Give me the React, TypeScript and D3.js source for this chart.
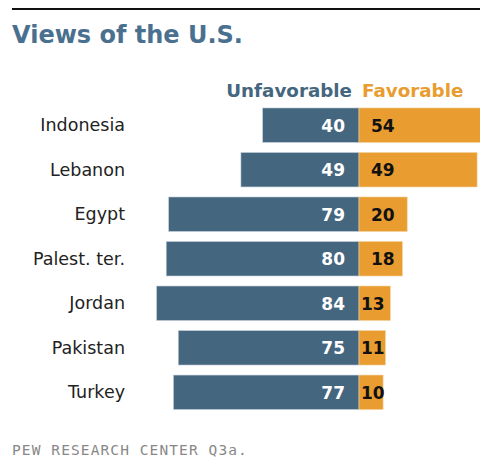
import React from "react";
import * as d3 from "d3";

const countries = ["Indonesia", "Lebanon", "Egypt", "Palest. ter.", "Jordan", "Pakistan", "Turkey"];
const unfavorable = [40, 49, 79, 80, 84, 75, 77];
const favorable = [54, 49, 20, 18, 13, 11, 10];

const BLUE = "#45667f";
const ORANGE = "#e99c2f";
const FONT = "Verdana, 'DejaVu Sans', sans-serif";

export default function App() {
  const W = 480, H = 459;
  const cx = 359;
  const k = 2.41;
  const xU = d3.scaleLinear().domain([0, 100]).range([cx, cx - 100 * k]);
  const xF = d3.scaleLinear().domain([0, 100]).range([cx, cx + 100 * k]);
  const y = d3.scaleBand().domain(countries).range([103.5, 414]).paddingInner(0.225).paddingOuter(0.1);
  const bh = y.bandwidth();

  return (
    <svg width={W} height={H} style={{ position: "absolute", left: 0, top: 0, display: "block" }}>
      <defs>
        <clipPath id="clip"><rect x={0} y={0} width={W} height={H} /></clipPath>
      </defs>
      <line x1={12} x2={W} y1={9} y2={9} stroke="#111" strokeWidth={2} />
      <text x={12} y={43} fontFamily={FONT} fontWeight="bold" fontSize={24} fill="#4a7090">Views of the U.S.</text>
      <text x={352} y={97} textAnchor="end" fontFamily={FONT} fontWeight="bold" fontSize={18.3} fill={BLUE}>Unfavorable</text>
      <text x={362} y={97} fontFamily={FONT} fontWeight="bold" fontSize={18.3} fill={ORANGE}>Favorable</text>
      <g clipPath="url(#clip)">
        {countries.map((c, i) => {
          const y0 = y(c)!;
          const yc = y0 + bh / 2;
          const fw = xF(favorable[i]) - cx;
          return (
            <g key={c}>
              <text x={125} y={yc + 6} textAnchor="end" fontFamily={FONT} fontSize={17.5} fill="#222">{c}</text>
              <rect x={xU(unfavorable[i])} y={y0} width={cx - xU(unfavorable[i])} height={bh} fill={BLUE} stroke="#c8d3dc" strokeWidth={0.6} />
              <rect x={cx} y={y0} width={fw} height={bh} fill={ORANGE} stroke="#f3d29f" strokeWidth={0.6} />
              <text x={cx - 14} y={yc + 6.5} textAnchor="end" fontFamily={FONT} fontWeight="bold" fontSize={17} fill="#fff">{unfavorable[i]}</text>
              <text x={fw > 40 ? cx + 12 : cx + 2} y={yc + 6.5} fontFamily={FONT} fontWeight="bold" fontSize={17} fill="#111">{favorable[i]}</text>
            </g>
          );
        })}
      </g>
      <text x={12} y={455} fontFamily="'DejaVu Sans Mono', monospace" fontSize={14.5} letterSpacing={1.1} fill="#888">PEW RESEARCH CENTER Q3a.</text>
    </svg>
  );
}
